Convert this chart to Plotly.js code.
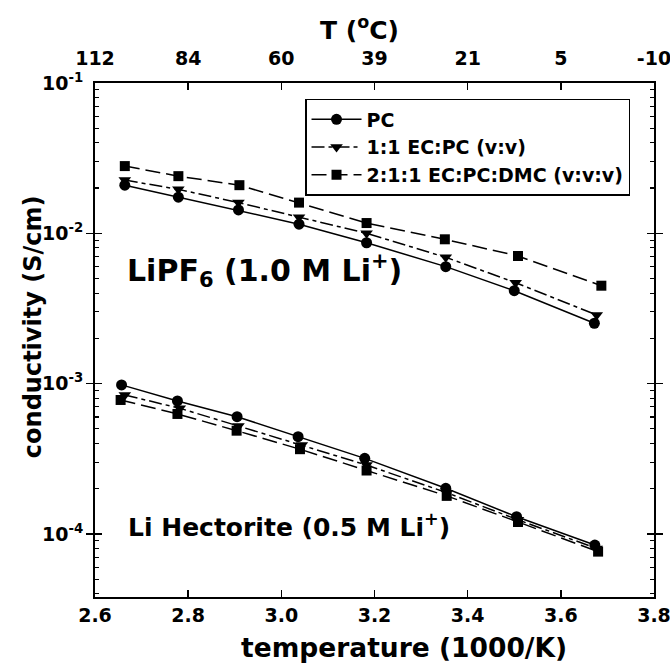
<!DOCTYPE html>
<html>
<head>
<meta charset="utf-8">
<script src="https://cdn.plot.ly/plotly-3.0.1.min.js"></script>
<style>html,body{margin:0;padding:0;background:#fff;}#chart{width:670px;height:663px;}</style>
</head>
<body>
<div id="chart"></div>
<script>
// ---- data ----
const seriesNames = ["PC", "1:1 EC:PC (v:v)", "2:1:1 EC:PC:DMC (v:v:v)"];

// LiPF6 (1.0 M Li+)
const xLiPF6_PC  = [2.664, 2.779, 2.908, 3.038, 3.183, 3.353, 3.500, 3.672];
const yLiPF6_PC  = [0.0209, 0.0174, 0.0143, 0.0115, 0.00865, 0.00600, 0.00415, 0.00252];
const xLiPF6_EC  = [2.664, 2.779, 2.908, 3.038, 3.183, 3.353, 3.503, 3.677];
const yLiPF6_EC  = [0.0226, 0.0196, 0.0160, 0.0128, 0.0100, 0.00692, 0.00469, 0.00286];
const xLiPF6_DMC = [2.664, 2.779, 2.910, 3.038, 3.183, 3.351, 3.508, 3.687];
const yLiPF6_DMC = [0.0280, 0.0240, 0.0209, 0.0160, 0.0117, 0.00912, 0.00706, 0.00448];

// Li Hectorite (0.5 M Li+)
const xHec_PC  = [2.657, 2.777, 2.905, 3.036, 3.179, 3.353, 3.505, 3.673];
const yHec_PC  = [9.8e-4, 7.66e-4, 6.02e-4, 4.43e-4, 3.18e-4, 2.01e-4, 1.30e-4, 8.43e-5];
const xHec_EC  = [2.664, 2.782, 2.908, 3.044, 3.183, 3.355, 3.508, 3.677];
const yHec_EC  = [8.4e-4, 6.85e-4, 5.22e-4, 3.90e-4, 2.87e-4, 1.88e-4, 1.24e-4, 8.0e-5];
const xHec_DMC = [2.655, 2.777, 2.904, 3.040, 3.183, 3.355, 3.508, 3.680];
const yHec_DMC = [7.78e-4, 6.28e-4, 4.86e-4, 3.66e-4, 2.64e-4, 1.79e-4, 1.20e-4, 7.62e-5];

// axes ticks and titles
const xTickVals = [2.6, 2.8, 3.0, 3.2, 3.4, 3.6, 3.8];
const xTickText = ["2.6", "2.8", "3.0", "3.2", "3.4", "3.6", "3.8"];
const topTickText = ["112", "84", "60", "39", "21", "5", "-10"];
const yTickVals = [1e-1, 1e-2, 1e-3, 1e-4];
const yTickText = ["10<sup>-1</sup>", "10<sup>-2</sup>", "10<sup>-3</sup>", "10<sup>-4</sup>"];
const yMinorVals = [];
[1e-5, 1e-4, 1e-3, 1e-2].forEach(d => { for (let k = 2; k <= 9; k++) yMinorVals.push(d * k); });
const xTitle = "temperature (1000/K)";
const topTitle = "T (<sup>o</sup>C)";
const yTitle = "conductivity (S/cm)";
const labelLiPF6 = "LiPF<sub>6</sub> (1.0 M Li<sup>+</sup>)";
const labelHec = "Li Hectorite (0.5 M Li<sup>+</sup>)";

// ---- styles ----
const FONT = "DejaVu Sans, sans-serif";
const styles = [
  {symbol: "circle", size: 11, dash: "solid"},
  {symbol: "triangle-down", size: 11, dash: "13px,4px,4px,4px"},
  {symbol: "square", size: 10, dash: "15px,6px"}
];
const groups = [
  [[xLiPF6_PC, yLiPF6_PC], [xHec_PC, yHec_PC]],
  [[xLiPF6_EC, yLiPF6_EC], [xHec_EC, yHec_EC]],
  [[xLiPF6_DMC, yLiPF6_DMC], [xHec_DMC, yHec_DMC]]
];

const traces = [];
groups.forEach((g, i) => {
  g.forEach((xy, j) => {
    traces.push({
      x: xy[0], y: xy[1], type: "scatter", mode: "lines+markers",
      name: seriesNames[i], legendgroup: "g" + i, showlegend: j === 0,
      line: {color: "#000", width: 1.5, dash: styles[i].dash},
      marker: {color: "#000", symbol: styles[i].symbol, size: styles[i].size},
      hoverinfo: "skip"
    });
  });
});
// empty helper traces so the top axis and the minor-tick axis are drawn
traces.push({x: [], y: [], xaxis: "x2", yaxis: "y", type: "scatter", mode: "markers", showlegend: false, hoverinfo: "skip"});
traces.push({x: [], y: [], xaxis: "x", yaxis: "y2", type: "scatter", mode: "markers", showlegend: false, hoverinfo: "skip"});

const yRange = [-4.42, -1];
const xRange = [2.6, 3.8];
const tickFont = {family: FONT, size: 19, weight: "bold", color: "#000"};

const layout = {
  width: 670, height: 663,
  margin: {l: 95, r: 16, t: 83, b: 66},
  paper_bgcolor: "#fff", plot_bgcolor: "#fff",
  font: {family: FONT, color: "#000", size: 19},
  showlegend: true,
  xaxis: {
    range: xRange, tickvals: xTickVals, ticktext: xTickText,
    ticks: "inside", ticklen: 7, tickwidth: 1.5, tickcolor: "#000",
    showline: true, linewidth: 2, linecolor: "#000",
    showgrid: false, zeroline: false, ticklabeloverflow: "allow",
    tickfont: tickFont
  },
  xaxis2: {
    overlaying: "x", side: "top", anchor: "y", range: xRange,
    tickvals: xTickVals, ticktext: topTickText,
    ticks: "inside", ticklen: 7, tickwidth: 1.5, tickcolor: "#000",
    showline: true, linewidth: 2, linecolor: "#000",
    showgrid: false, zeroline: false, ticklabelstandoff: 8, ticklabeloverflow: "allow",
    tickfont: tickFont
  },
  yaxis: {
    type: "log", range: yRange, tickvals: yTickVals, ticktext: yTickText,
    ticks: "inside", ticklen: 7, tickwidth: 1.5, tickcolor: "#000",
    showline: true, linewidth: 2, linecolor: "#000", mirror: "allticks",
    showgrid: false, zeroline: false, ticklabelstandoff: 6,
    tickfont: tickFont
  },
  yaxis2: {
    type: "log", range: yRange, overlaying: "y", anchor: "x", side: "right",
    tickmode: "array", tickvals: yMinorVals, showticklabels: false,
    ticks: "inside", ticklen: 4, tickwidth: 1.2, tickcolor: "#000",
    mirror: "allticks", showline: true, linewidth: 2, linecolor: "#000",
    showgrid: false, zeroline: false
  },
  legend: {
    x: 0.3757, y: 0.969, xanchor: "left", yanchor: "top",
    bgcolor: "#fff", bordercolor: "#000", borderwidth: 1.5,
    font: {family: FONT, size: 19, weight: "bold", color: "#000"},
    itemwidth: 50, tracegroupgap: 0
  },
  annotations: [
    {text: xTitle, xref: "paper", yref: "paper", x: 0.5528, y: -0.0992,
     xanchor: "center", yanchor: "middle", showarrow: false,
     font: {family: FONT, size: 26.5, weight: "bold"}},
    {text: topTitle, xref: "paper", yref: "paper", x: 0.4723, y: 1.107,
     xanchor: "center", yanchor: "middle", showarrow: false,
     font: {family: FONT, size: 25, weight: "bold"}},
    {text: yTitle, xref: "paper", yref: "paper", x: -0.1109, y: 0.525, textangle: -90,
     xanchor: "center", yanchor: "middle", showarrow: false,
     font: {family: FONT, size: 24, weight: "bold"}},
    {text: labelLiPF6, xref: "paper", yref: "paper",
     x: 0.0537, y: 0.636, xanchor: "left", yanchor: "middle", showarrow: false,
     font: {family: FONT, size: 30, weight: "bold"}},
    {text: labelHec, xref: "paper", yref: "paper",
     x: 0.0555, y: 0.140, xanchor: "left", yanchor: "middle", showarrow: false,
     font: {family: FONT, size: 25, weight: "bold"}}
  ]
};

Plotly.newPlot("chart", traces, layout, {displayModeBar: false, staticPlot: true});
</script>
</body>
</html>
